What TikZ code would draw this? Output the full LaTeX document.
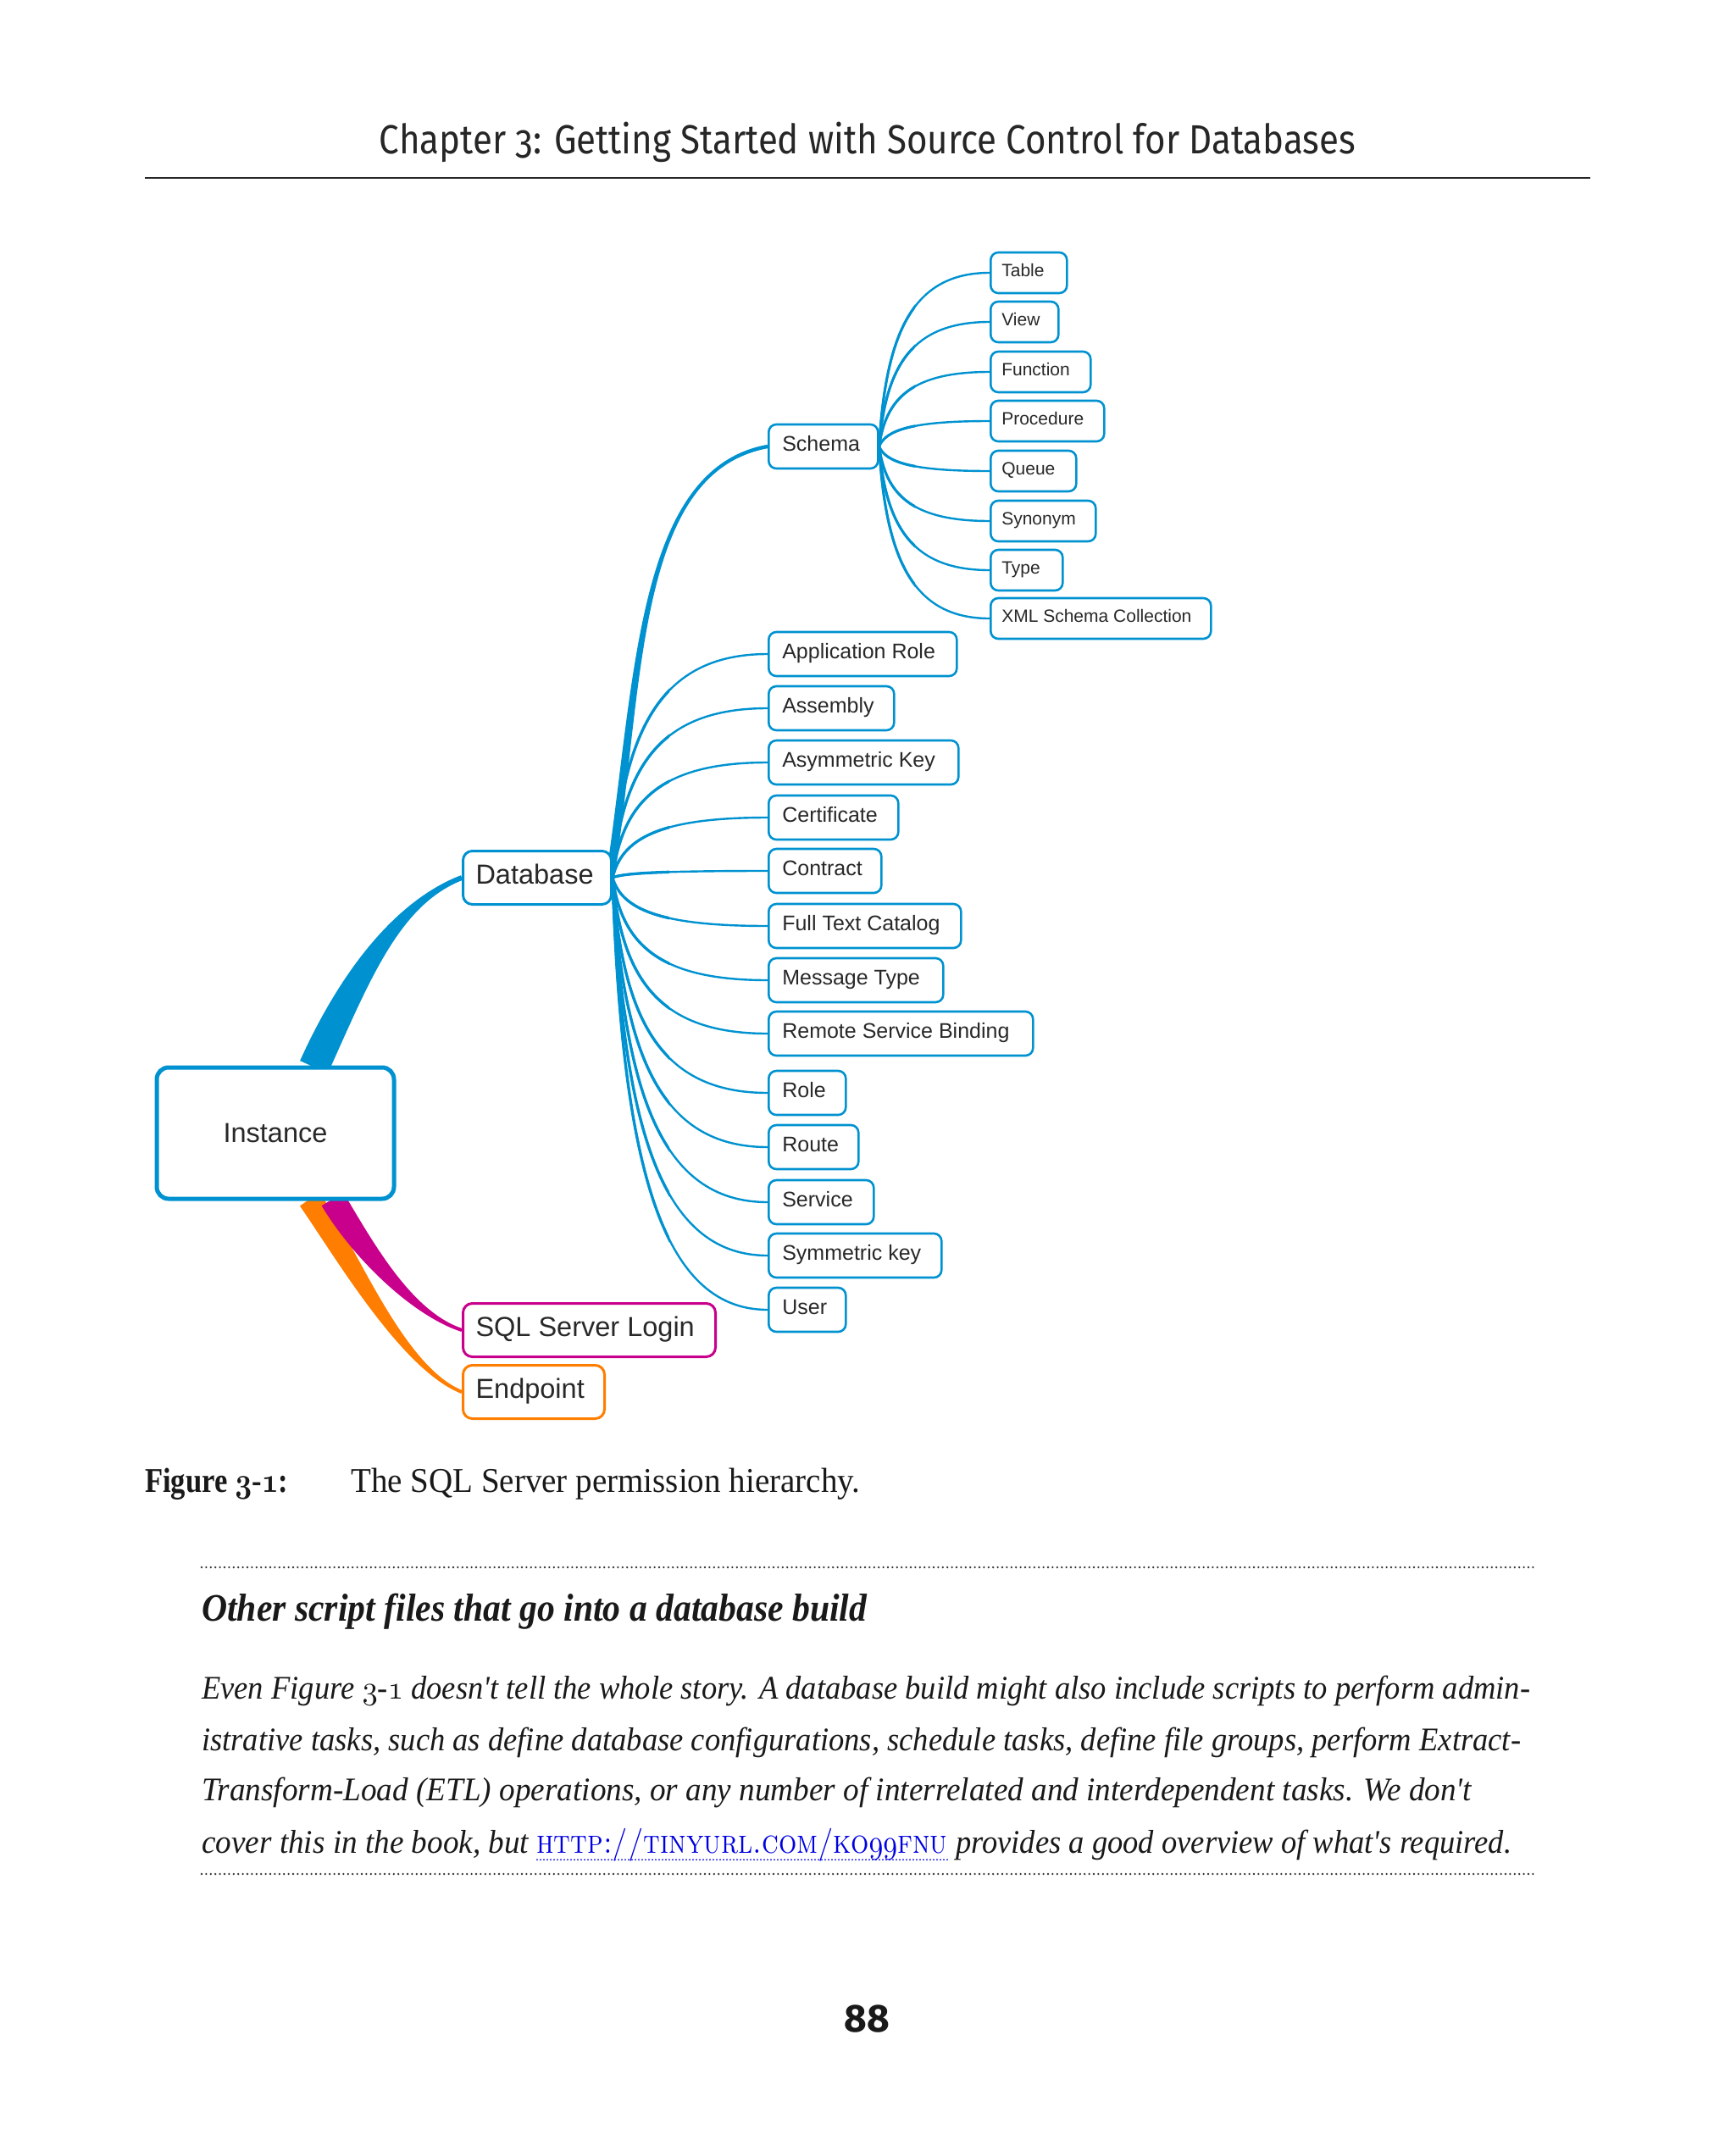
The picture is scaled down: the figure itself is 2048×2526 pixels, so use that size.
\documentclass[tikz,border=0pt]{standalone}
\usepackage{fontspec}
\usepackage{graphicx}
\usetikzlibrary{calc}
\newfontfamily\arialf{Liberation Sans}
\newfontfamily\firaf{Fira Sans}[Numbers=OldStyle]
\newfontfamily\firan{Fira Sans}
\newfontfamily\serf{Liberation Serif}
\definecolor{mmblue}{RGB}{0,146,208}
\definecolor{mmmag}{RGB}{200,0,140}
\definecolor{mmorg}{RGB}{255,125,0}
\definecolor{boxtxt}{RGB}{40,40,40}
\definecolor{bodytxt}{RGB}{25,25,25}
\definecolor{linkblue}{RGB}{0,0,225}
\pgfdeclarelayer{paper}
\pgfdeclarelayer{bg}
\pgfsetlayers{paper,bg,main}
\newcommand\osn[3]{\scalebox{#2}{\fontencoding{OML}\fontfamily{cmm}\fontseries{#1}\fontshape{it}\fontsize{10}{12}\selectfont #3}}
\newcommand\bx[2]{\makebox[#1pt][l]{\rule[-0.25em]{0pt}{0.966em}#2}}
\newcommand\fan[3][]{\draw[fanline,#1] let \p1=(#2.east), \p2=(#3.west) in
  (\p1) .. controls ({\x1+0.06*(\x2-\x1)},{\y1+0.65*(\y2-\y1)}) and ({\x1+0.3*(\x2-\x1)},\y2) .. (\p2);}
\newcommand\taper[7]{%
  \fill[#7] ($(#1)!#5!90:(#2)$) .. controls ($(#2)!#5!-90:(#1)$) and ($(#3)!#6!90:(#4)$) .. ($(#4)!#6!-90:(#3)$)
  -- ($(#4)!#6!90:(#3)$) .. controls ($(#3)!#6!-90:(#4)$) and ($(#2)!#5!90:(#1)$) .. ($(#1)!#5!-90:(#2)$) -- cycle;}
\begin{document}
\begin{tikzpicture}[x=1pt,y=-1pt,
  box/.style={draw=mmblue, fill=white, rounded corners=9, line width=2.6, anchor=west, inner ysep=0pt, text=boxtxt},
  lthree/.style={box, minimum height=48, inner xsep=13, font=\arialf\fontsize{21}{25}\selectfont},
  ltwo/.style={box, minimum height=52, inner xsep=16, font=\arialf\fontsize{25}{30}\selectfont},
  lone/.style={box, minimum height=63, inner xsep=15, line width=3, rounded corners=11, font=\arialf\fontsize{32.5}{38}\selectfont},
  fanline/.style={draw=mmblue, line width=2.4},
  bodyline/.style={anchor=base west, inner sep=0pt, text=bodytxt, font=\serf\itshape\fontsize{39}{61}\selectfont},
  dotline/.style={draw=black!80, line width=2.6, dash pattern=on 0pt off 5.4pt, line cap=round}]
\begin{pgfonlayer}{paper}
\useasboundingbox[fill=white] (0,0) rectangle (2048,2526);
\end{pgfonlayer}

% header
\node[anchor=base, inner sep=0pt, text=black!85, font=\firaf\fontsize{48}{56}\selectfont] (hdr) at (1024,182)
  {\resizebox{1152pt}{\height}{Chapter 3: Getting Started with Source Control for Databases}};
\coordinate (rl) at (171,210);
\coordinate (rr) at (1877,210);
\draw[line width=2.5, black!85] (rl) -- (rr);

% nodes
\node[draw=mmblue, fill=white, line width=5, rounded corners=14, minimum width=280, minimum height=155,
  text=boxtxt, font=\arialf\fontsize{32.5}{38}\selectfont] (inst) at (325,1337.5) {Instance};
\node[lone] (db) at (545,1036) {\bx{145}{Database}};
\node[lone, draw=mmmag] (sql) at (545,1570) {\bx{268}{SQL Server Login}};
\node[lone, draw=mmorg] (ep) at (545,1643) {\bx{137}{Endpoint}};

\node[ltwo] (sch) at (906,527) {\bx{97}{Schema}};
\node[ltwo] (approle) at (906,772) {\bx{190}{Application Role}};
\node[ltwo] (assem) at (906,836) {\bx{116}{Assembly}};
\node[ltwo] (asym) at (906,900) {\bx{192}{Asymmetric Key}};
\node[ltwo] (cert) at (906,965) {\bx{121}{Certificate}};
\node[ltwo] (contr) at (906,1028) {\bx{101}{Contract}};
\node[ltwo] (ftc) at (906,1093) {\bx{195}{Full Text Catalog}};
\node[ltwo] (msg) at (906,1157) {\bx{174}{Message Type}};
\node[ltwo] (rsb) at (906,1220) {\bx{280}{Remote Service Binding}};
\node[ltwo] (role) at (906,1290) {\bx{59}{Role}};
\node[ltwo] (route) at (906,1354) {\bx{74}{Route}};
\node[ltwo] (serv) at (906,1419) {\bx{92}{Service}};
\node[ltwo] (symk) at (906,1482) {\bx{172}{Symmetric key}};
\node[ltwo] (user) at (906,1546) {\bx{59}{User}};

\node[lthree] (tab) at (1168,322) {\bx{64}{Table}};
\node[lthree] (view) at (1168,380) {\bx{54}{View}};
\node[lthree] (func) at (1168,439) {\bx{92}{Function}};
\node[lthree] (proc) at (1168,497) {\bx{108}{Procedure}};
\node[lthree] (queue) at (1168,556) {\bx{75}{Queue}};
\node[lthree] (syn) at (1168,615) {\bx{98}{Synonym}};
\node[lthree] (type) at (1168,673) {\bx{59}{Type}};
\node[lthree] (xml) at (1168,730) {\bx{234}{XML Schema Collection}};

% connectors
\begin{pgfonlayer}{bg}
\coordinate (ia0) at ($(inst.north west)+(188,2)$);
\coordinate (ia1) at (420,1150);
\coordinate (ia2) at (470,1065);
\taper{ia0}{ia1}{ia2}{db.west}{18pt}{3pt}{mmblue}
\coordinate (io0) at ($(inst.south west)+(183,-2)$);
\coordinate (io1) at (410,1480);
\coordinate (io2) at (475,1615);
\taper{io0}{io1}{io2}{ep.west}{14pt}{2pt}{mmorg}
\coordinate (im0) at ($(inst.south west)+(210,-2)$);
\coordinate (im1) at (428,1475);
\coordinate (im2) at (485,1550);
\taper{im0}{im1}{im2}{sql.west}{15pt}{2pt}{mmmag}
\coordinate (is0) at ($(db.east)+(-2,-6)$);
\coordinate (is1) at (755,800);
\coordinate (is2) at (752,555);
\taper{is0}{is1}{is2}{sch.west}{5pt}{2.2pt}{mmblue}
\foreach \c in {approle,assem,asym,cert,contr,ftc,msg,rsb,role,route,serv,symk,user} {\fan{db}{\c}}
\foreach \c in {tab,view,func,proc,queue,syn,type,xml} {\fan{sch}{\c}}
\begin{scope}
\clip (700,700) rectangle (790,1600);
\foreach \c in {approle,assem,asym,cert,contr,ftc,msg,rsb,role,route,serv,symk,user} {\fan[line width=3.3]{db}{\c}}
\end{scope}
\begin{scope}
\clip (1020,280) rectangle (1080,760);
\foreach \c in {tab,view,func,proc,queue,syn,type,xml} {\fan[line width=3.1]{sch}{\c}}
\end{scope}
\end{pgfonlayer}

% caption
\node[anchor=base west, inner sep=0pt, text=bodytxt, font=\serf\bfseries\fontsize{41}{48}\selectfont] (figlab) at (171,1761)
  {\resizebox{169pt}{\height}{Figure \osn{b}{4.1}{3}-\osn{b}{4.1}{1}:}};
\node[anchor=base west, inner sep=0pt, text=bodytxt, font=\serf\fontsize{41}{48}\selectfont] (figcap) at (414,1761)
  {\resizebox{601pt}{\height}{The SQL Server permission hierarchy.}};

% sidebar
\coordinate (d1l) at (238,1850);
\coordinate (d1r) at (1810,1850);
\draw[dotline] (d1l) -- (d1r);
\node[anchor=base west, inner sep=0pt, text=bodytxt, font=\serf\bfseries\itshape\fontsize{46}{54}\selectfont] (boxhead) at (238,1913)
  {\resizebox{785pt}{\height}{Other script files that go into a database build}};
\node[bodyline] (la) at (238,2005) {\resizebox{1568pt}{\height}{Even Figure \osn{m}{3.9}{3}-\osn{m}{3.9}{1} doesn't tell the whole story. A database build might also include scripts to perform admin-}};
\node[bodyline] (lb) at (238,2066) {\resizebox{1557pt}{\height}{istrative tasks, such as define database configurations, schedule tasks, define file groups, perform Extract-}};
\node[bodyline] (lc) at (238,2125) {\resizebox{1499pt}{\height}{Transform-Load (ETL) operations, or any number of interrelated and interdependent tasks. We don't}};
\node[bodyline] (lda) at (238,2187) {\resizebox{386pt}{\height}{cover this in the book, but}};
\node[bodyline, text=linkblue, font=\rmfamily\upshape\fontsize{39}{61}\selectfont] (link) at (633,2187)
  {\resizebox{485pt}{\height}{\textsc{http://tinyurl.com/ko}\osn{m}{3.9}{99}\textsc{fnu}}};
\draw[linkblue, line width=2, dash pattern=on 0pt off 4pt, line cap=round] ($(link.base west)+(1,8)$) -- ($(link.base east)+(0,8)$);
\node[bodyline] (ldc) at (1128,2187) {\resizebox{656pt}{\height}{provides a good overview of what's required.}};
\coordinate (d2l) at (238,2212);
\coordinate (d2r) at (1810,2212);
\draw[dotline] (d2l) -- (d2r);

% page number
\node[anchor=base, inner sep=0pt, text=black!90, font=\firan\bfseries\fontsize{46}{54}\selectfont] (pg) at (1023,2398) {88};
\end{tikzpicture}
\end{document}
